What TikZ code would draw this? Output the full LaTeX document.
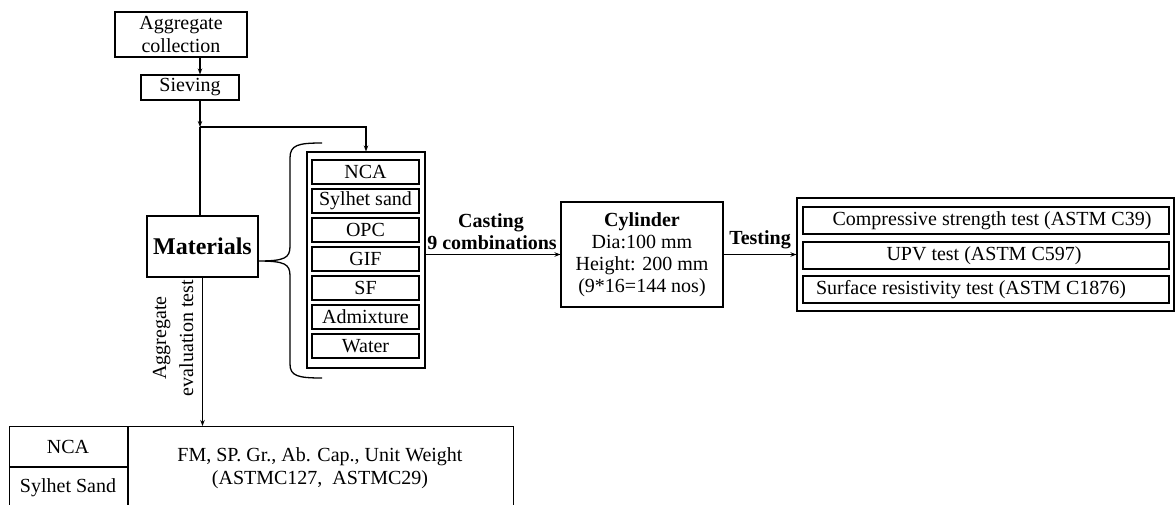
\documentclass[tikz,border=0pt]{standalone}
\usepackage{fontspec}
\setmainfont{Liberation Serif}
\usetikzlibrary{arrows.meta}
\begin{document}
\begin{tikzpicture}[x=1pt,y=-1pt,
  txt/.style={inner sep=0pt, align=center, font=\fontsize{20}{23}\selectfont},
  box/.style={txt, draw, line width=1.1pt},
  ibox/.style={txt, draw, line width=1.8pt},
  btxt/.style={txt, font=\fontsize{20}{23}\selectfont\bfseries},
  conn/.style={line width=1.3pt},
  arr/.style={conn, -{Stealth[length=6pt,width=4.5pt]}}]
\clip (0,0) rectangle (1176,504);
\useasboundingbox (0,0) rectangle (1176,504);

% top chain
\node[box, minimum width=132, minimum height=45] (agg) at (181,34.5) {Aggregate\\collection};
\node[box, minimum width=98, minimum height=25] (sieve) at (190,87.5) {Sieving};
\coordinate (J) at (200,127);
\draw[arr] (agg.south -| J) -- (sieve.north -| J);
\draw[arr] (sieve.south -| J) -- (J);

% materials
\node[box, minimum width=111, minimum height=61, font=\fontsize{24}{28}\selectfont\bfseries] (mat) at (202.5,246.5) {Materials};
\draw[conn] (J) -- (J |- mat.north);

% mix box
\node[box, minimum width=118, minimum height=216] (mix) at (366,260) {};
\draw[arr] (J) -| (mix.north);
\foreach \n/\t/\yy in {m1/NCA/172, m2/Sylhet sand/201, m3/OPC/230, m4/GIF/259, m5/SF/288, m6/Admixture/317, m7/Water/346}{
  \node[ibox, minimum width=107, minimum height=24] (\n) at (365.5,\yy) {\t};
}

% brace
\draw[conn] (322,143) .. controls (298,143) and (290,145) .. (290,158)
  -- (290,246) .. controls (290,258) and (285,261) .. (258,261)
  .. controls (285,261) and (290,264) .. (290,276)
  -- (290,364) .. controls (290,376) and (298,378) .. (322,378);

% cylinder
\node[box, minimum width=162, minimum height=105] (cyl) at (642,254.5) {};
\node[txt, font=\fontsize{20}{22}\selectfont] (cyltxt) at (642,254.5) {\textbf{Cylinder}\\Dia:100 mm\\Height: 200 mm\\(9*16=144 nos)};
\draw[arr] (mix.east |- cyl.west) -- (cyl.west);
\node[btxt] (cast) at (491,223) {Casting};
\node[btxt] (comb) at (492,243) {9 combinations};

% tests
\node[box, minimum width=377, minimum height=113] (tests) at (985.5,254.5) {};
\node[ibox, minimum width=366, minimum height=27] (t1) at (986,220.5) {};
\node[ibox, minimum width=366, minimum height=27] (t2) at (986,255.5) {};
\node[ibox, minimum width=366, minimum height=27] (t3) at (986,289.5) {};
\node[txt] (t1l) at (992,220.5) {Compressive strength test (ASTM C39)};
\node[txt] (t2l) at (984,255.5) {UPV test (ASTM C597)};
\node[txt] (t3l) at (971,289.5) {Surface resistivity test (ASTM C1876)};
\draw[arr] (cyl.east) -- (tests.west |- cyl.east);
\node[btxt] (testing) at (760,240) {Testing};

% bottom table
\node[box, anchor=north west, minimum width=504, minimum height=85] (tab) at (9,426) {};
\draw[line width=1.1pt] (128,426) -- (128,511);
\draw[line width=1.1pt] (9,467) -- (128,467);
\node[txt] (tn) at (68,447) {NCA};
\node[txt] (ts) at (68,488) {Sylhet Sand};
\node[txt] (tp) at (320,468.5) {FM, SP. Gr., Ab. Cap., Unit Weight\\(ASTMC127,\ \ ASTMC29)};
\draw[arr] (mat.south) -- (mat.south |- tab.north);
\node[txt, rotate=90, font=\fontsize{20}{27}\selectfont] (aet) at (173,338) {Aggregate\\evaluation test};
\end{tikzpicture}
\end{document}
